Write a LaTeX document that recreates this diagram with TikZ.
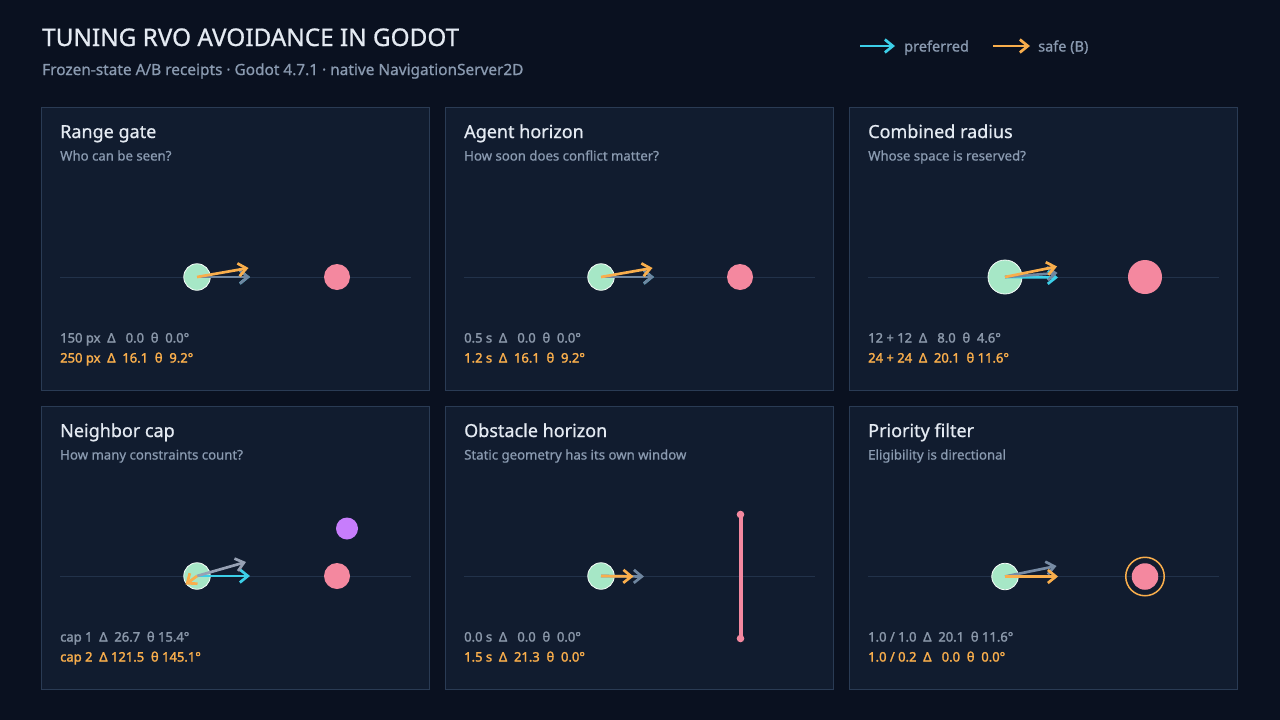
\documentclass[tikz,border=0pt]{standalone}
\usepackage{fontspec}
\setmainfont{Noto Sans}
\newfontfamily\medfont[FakeBold=0.8]{Noto Sans}
\newfontfamily\semifont[FakeBold=1.8]{Noto Sans}
\usetikzlibrary{arrows.meta}
\definecolor{bgc}{HTML}{0A1120}
\definecolor{panelc}{HTML}{111C2F}
\definecolor{borderc}{HTML}{2A3B54}
\definecolor{basec}{HTML}{22324A}
\definecolor{titlec}{HTML}{E4EAF2}
\definecolor{subc}{HTML}{8A9AB0}
\definecolor{statc}{HTML}{8A97A9}
\definecolor{orangec}{HTML}{F9AE4C}
\definecolor{cyanc}{HTML}{3CCFE8}
\definecolor{grayc}{HTML}{6F86A0}
\definecolor{lgrayc}{HTML}{97A1B4}
\definecolor{greenc}{HTML}{A6E7C6}
\definecolor{pinkc}{HTML}{F4889F}
\definecolor{purplec}{HTML}{C77DFC}
\tikzset{
  txt/.style={inner sep=0pt, anchor=base west},
  maintitle/.style={txt, text=titlec, font=\medfont\fontsize{24.3}{28}\selectfont},
  mainsub/.style={txt, text=subc, font=\medfont\fontsize{15.4}{18}\selectfont},
  legtxt/.style={txt, text=subc, font=\medfont\fontsize{14.5}{17}\selectfont},
  ptitle/.style={txt, text=titlec, font=\medfont\fontsize{18}{21}\selectfont},
  psub/.style={txt, text=subc, font=\medfont\fontsize{13.2}{15}\selectfont},
  statA/.style={txt, text=statc, font=\semifont\fontsize{13}{15}\selectfont},
  statB/.style={txt, text=orangec, font=\semifont\fontsize{13}{15}\selectfont},
  panelbox/.style={draw=borderc, fill=panelc, line width=1pt, anchor=north west, minimum width=388pt, minimum height=283pt, inner sep=0pt},
  baseln/.style={draw=basec, line width=1pt},
  agent/.style={circle, fill=greenc, draw=white!90!greenc, line width=0.8pt, inner sep=0pt, minimum size=#1},
  other/.style={circle, fill=pinkc, inner sep=0pt, minimum size=#1},
  vec/.style={line width=2.7pt, -{Straight Barb[length=8pt,width=13pt]}},
}
\begin{document}
\begin{tikzpicture}[x=1pt,y=-1pt]
\fill[bgc] (0,0) rectangle (1280,720);
\useasboundingbox (0,0) rectangle (1280,720);

% header
\node[maintitle] (title) at (42,46) {TUNING RVO AVOIDANCE IN GODOT};
\node[mainsub] (subtitle) at (42,75) {Frozen-state A/B receipts · Godot 4.7.1 · native NavigationServer2D};

% legend
\coordinate (lpa) at (860,46); \coordinate (lpb) at (895,46);
\draw[vec, cyanc] (lpa) -- (lpb);
\node[legtxt] (lp) at (904,51.5) {preferred};
\coordinate (lsa) at (993,46); \coordinate (lsb) at (1030,46);
\draw[vec, orangec] (lsa) -- (lsb);
\node[legtxt] (ls) at (1038,51.5) {safe (B)};

% ---------- Panel 1 ----------
\begin{scope}[shift={(41,107)}]
\node[panelbox] (p1) at (0,0) {};
\node[ptitle] (p1t) at (19,31) {Range gate};
\node[psub] (p1s) at (19,53.5) {Who can be seen?};
\coordinate (p1l) at (19,170); \coordinate (p1r) at (370,170);
\draw[baseln] (p1l) -- (p1r);
\node[agent=26.5pt] (p1a) at (156,170) {};
\node[other=26pt] (p1o) at (296,170) {};
\coordinate (p1pref) at (209,170);
\coordinate (p1safe) at (207.5,161);
\draw[vec, cyanc] (p1a.center) -- (p1pref);
\draw[vec, grayc] (p1a.center) -- (p1pref);
\draw[vec, orangec] (p1a.center) -- (p1safe);
\node[statA] (p1s1) at (19,235.5) {150 px\ \ Δ\ \ \ 0.0\ \ θ\ \ 0.0°};
\node[statB] (p1s2) at (19,255.5) {250 px\ \ Δ\ \ 16.1\ \ θ\ \ 9.2°};
\end{scope}

% ---------- Panel 2 ----------
\begin{scope}[shift={(445,107)}]
\node[panelbox] (p2) at (0,0) {};
\node[ptitle] (p2t) at (19,31) {Agent horizon};
\node[psub] (p2s) at (19,53.5) {How soon does conflict matter?};
\coordinate (p2l) at (19,170); \coordinate (p2r) at (370,170);
\draw[baseln] (p2l) -- (p2r);
\node[agent=26.5pt] (p2a) at (156,170) {};
\node[other=26pt] (p2o) at (295,170) {};
\coordinate (p2pref) at (209,170);
\coordinate (p2safe) at (207.5,161);
\draw[vec, cyanc] (p2a.center) -- (p2pref);
\draw[vec, grayc] (p2a.center) -- (p2pref);
\draw[vec, orangec] (p2a.center) -- (p2safe);
\node[statA] (p2s1) at (19,235.5) {0.5 s\ \ Δ\ \ \ 0.0\ \ θ\ \ 0.0°};
\node[statB] (p2s2) at (19,255.5) {1.2 s\ \ Δ\ \ 16.1\ \ θ\ \ 9.2°};
\end{scope}

% ---------- Panel 3 ----------
\begin{scope}[shift={(849,107)}]
\node[panelbox] (p3) at (0,0) {};
\node[ptitle] (p3t) at (19,31) {Combined radius};
\node[psub] (p3s) at (19,53.5) {Whose space is reserved?};
\coordinate (p3l) at (19,170); \coordinate (p3r) at (370,170);
\draw[baseln] (p3l) -- (p3r);
\node[agent=34pt] (p3a) at (156,170) {};
\node[other=34pt] (p3o) at (296,170) {};
\coordinate (p3pref) at (209,170.5);
\coordinate (p3A) at (208.5,166);
\coordinate (p3safe) at (208,159.5);
\draw[vec, cyanc] (p3a.center) -- (p3pref);
\draw[vec, grayc] (p3a.center) -- (p3A);
\draw[vec, orangec] (p3a.center) -- (p3safe);
\node[statA] (p3s1) at (19,235.5) {12 + 12\ \ Δ\ \ \ 8.0\ \ θ\ \ 4.6°};
\node[statB] (p3s2) at (19,255.5) {24 + 24\ \ Δ\ \ 20.1\ \ θ 11.6°};
\end{scope}

% ---------- Panel 4 ----------
\begin{scope}[shift={(41,406)}]
\node[panelbox] (p4) at (0,0) {};
\node[ptitle] (p4t) at (19,31) {Neighbor cap};
\node[psub] (p4s) at (19,53.5) {How many constraints count?};
\coordinate (p4l) at (19,170); \coordinate (p4r) at (370,170);
\draw[baseln] (p4l) -- (p4r);
\node[agent=26.5pt] (p4a) at (156,170) {};
\node[other=26pt] (p4o) at (296,170) {};
\node[circle, fill=purplec, inner sep=0pt, minimum size=22pt] (p4q) at (306,122.5) {};
\coordinate (p4pref) at (209,170);
\coordinate (p4A) at (205,156);
\coordinate (p4safe) at (144.5,178.5);
\draw[vec, cyanc] (p4a.center) -- (p4pref);
\draw[vec, lgrayc] (p4a.center) -- (p4A);
\draw[vec, orangec] (p4a.center) -- (p4safe);
\node[statA] (p4s1) at (19,235.5) {cap 1\ \ Δ\ \ 26.7\ \ θ 15.4°};
\node[statB] (p4s2) at (19,255.5) {cap 2\ \ Δ 121.5\ \ θ 145.1°};
\end{scope}

% ---------- Panel 5 ----------
\begin{scope}[shift={(445,406)}]
\node[panelbox] (p5) at (0,0) {};
\node[ptitle] (p5t) at (19,31) {Obstacle horizon};
\node[psub] (p5s) at (19,53.5) {Static geometry has its own window};
\coordinate (p5l) at (19,170); \coordinate (p5r) at (370,170);
\draw[baseln] (p5l) -- (p5r);
\node[agent=26.5pt] (p5a) at (156,170) {};
\coordinate (p5A) at (199,170.5);
\coordinate (p5safe) at (188.5,170.5);
\draw[vec, grayc] (p5a.center) -- (p5A);
\draw[vec, orangec] (p5a.center) -- (p5safe);
\coordinate (p5wt) at (295.5,108.5);
\coordinate (p5wb) at (295.5,232.5);
\draw[pinkc, line width=4pt] (p5wt) -- (p5wb);
\fill[pinkc] (p5wt) circle (3.8pt);
\fill[pinkc] (p5wb) circle (3.8pt);
\node[statA] (p5s1) at (19,235.5) {0.0 s\ \ Δ\ \ \ 0.0\ \ θ\ \ 0.0°};
\node[statB] (p5s2) at (19,255.5) {1.5 s\ \ Δ\ \ 21.3\ \ θ\ \ 0.0°};
\end{scope}

% ---------- Panel 6 ----------
\begin{scope}[shift={(849,406)}]
\node[panelbox] (p6) at (0,0) {};
\node[ptitle] (p6t) at (19,31) {Priority filter};
\node[psub] (p6s) at (19,53.5) {Eligibility is directional};
\coordinate (p6l) at (19,170); \coordinate (p6r) at (370,170);
\draw[baseln] (p6l) -- (p6r);
\node[agent=26.5pt] (p6a) at (156,170.5) {};
\node[other=26.5pt] (p6o) at (296,170.5) {};
\node[circle, draw=orangec, line width=1.5pt, inner sep=0pt, minimum size=38.5pt] (p6ring) at (296,170.5) {};
\coordinate (p6A) at (207.5,160);
\coordinate (p6safe) at (209,170.5);
\draw[vec, grayc!80!lgrayc] (p6a.center) -- (p6A);
\draw[vec, orangec] (p6a.center) -- (p6safe);
\node[statA] (p6s1) at (19,235.5) {1.0 / 1.0\ \ Δ\ \ 20.1\ \ θ 11.6°};
\node[statB] (p6s2) at (19,255.5) {1.0 / 0.2\ \ Δ\ \ \ 0.0\ \ θ\ \ 0.0°};
\end{scope}
\end{tikzpicture}
\end{document}
